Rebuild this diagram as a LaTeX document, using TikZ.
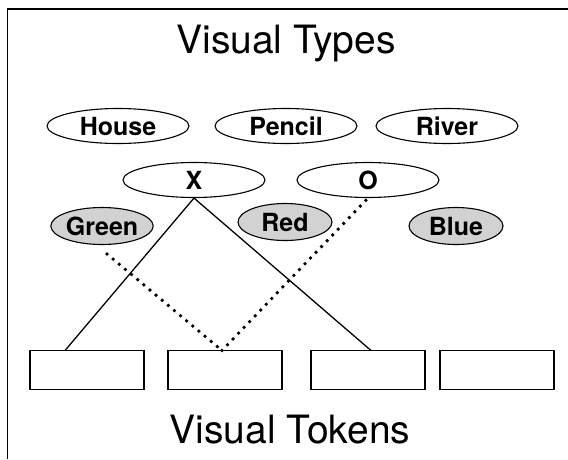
\documentclass[tikz,border=0pt]{standalone}
\usepackage{fontspec}
\setmainfont{TeX Gyre Heros}
\usetikzlibrary{shapes.geometric}
\begin{document}
\begin{tikzpicture}[x=1pt,y=-1pt,
  typebox/.style={ellipse,draw,line width=1.1pt,minimum width=142pt,minimum height=35pt,inner sep=0pt,
    font=\fontsize{25}{25}\selectfont\bfseries},
  colbox/.style={ellipse,draw,line width=1.1pt,fill=gray!35,minimum width=94pt,minimum height=37pt,inner sep=0pt,
    font=\fontsize{25}{25}\selectfont\bfseries},
  tokbox/.style={rectangle,draw,line width=1.1pt,minimum width=114pt,minimum height=39pt,inner sep=0pt},
  link/.style={line width=1.3pt},
  dotlink/.style={line width=3.8pt,line cap=round,dash pattern=on 0pt off 8pt},
  title/.style={font=\fontsize{39}{39}\selectfont}]
\useasboundingbox (0,0) rectangle (568,459);
% partial frame: top and left edges
\draw[line width=1.6pt] (568,9) -- (7.5,9) -- (7.5,459);

\node[title] (types) at (286,44) {Visual Types};
\node[title] (tokens) at (290,430) {Visual Tokens};

\node[typebox] (house) at (118,126) {House};
\node[typebox] (pencil) at (286,126) {Pencil};
\node[typebox] (river) at (447,126) {River};
\node[typebox] (x) at (194,180) {X};
\node[typebox] (o) at (368,180) {O};

\node[colbox] (green) at (102,226) {Green};
\node[colbox] (red) at (285,222) {Red};
\node[colbox] (blue) at (456,226) {Blue};

\node[tokbox] (t1) at (87,370) {};
\node[tokbox] (t2) at (225,370) {};
\node[tokbox] (t3) at (368,370) {};
\node[tokbox] (t4) at (497,370) {};

\coordinate (t1a) at (65,350.5);
\coordinate (t3a) at (371,350.5);
\coordinate (t2a) at (222,350.5);

\draw[link] (x.south) -- (t1a);
\draw[link] (x.south) -- (t3a);
\draw[dotlink] (107,254) -- (t2a);
\draw[dotlink] (t2a) -- (o.south);
\end{tikzpicture}
\end{document}
